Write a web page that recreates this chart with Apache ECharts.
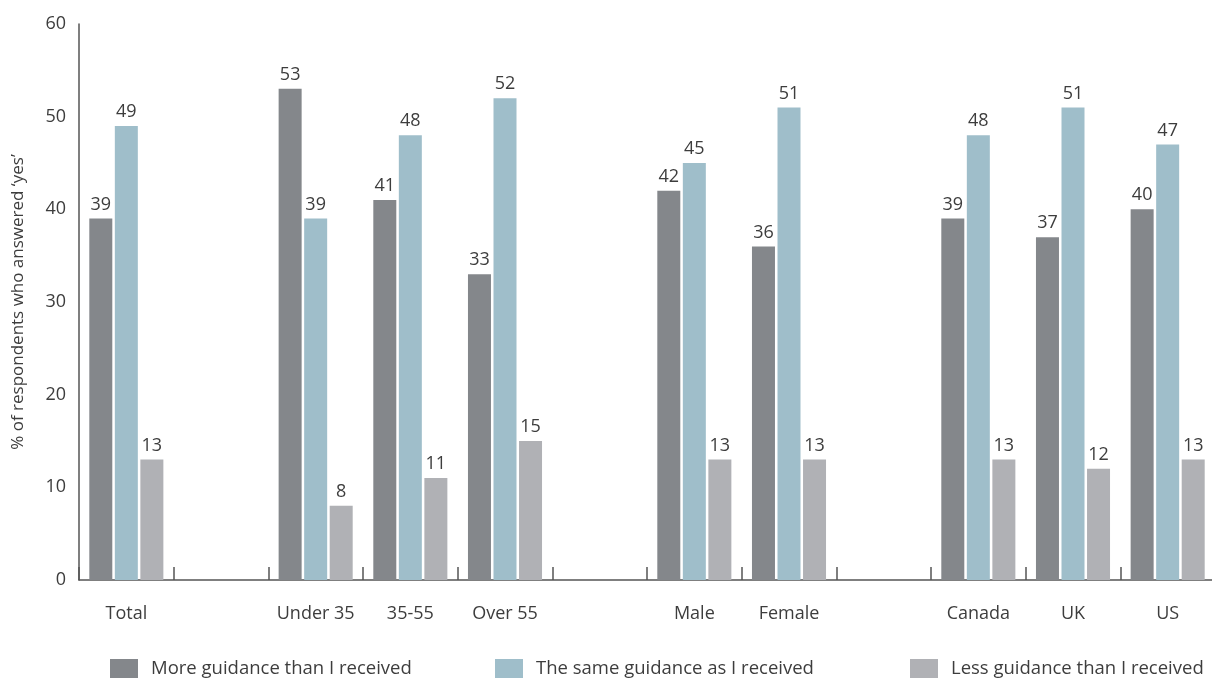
<!DOCTYPE html>
<html>
<head>
<meta charset="utf-8">
<script src="https://cdn.jsdelivr.net/npm/echarts@6/dist/echarts.min.js"></script>
<style>
  html, body { margin: 0; padding: 0; background: #ffffff; }
  #chart { width: 1212px; height: 681px; }
</style>
</head>
<body>
<div id="chart"></div>
<script>
// Category slots; empty strings leave a gap between groups
const categories = ['Total', '', 'Under 35', '35-55', 'Over 55', '', 'Male', 'Female', '', 'Canada', 'UK', 'US'];
const seriesNames = ['More guidance than I received', 'The same guidance as I received', 'Less guidance than I received'];
const moreGuidance = [39, null, 53, 41, 33, null, 42, 36, null, 39, 37, 40];
const sameGuidance = [49, null, 39, 48, 52, null, 45, 51, null, 48, 51, 47];
const lessGuidance = [13, null, 8, 11, 15, null, 13, 13, null, 13, 12, 13];
const yTicks = [0, 10, 20, 30, 40, 50, 60];

const FONT = '"Open Sans", "DejaVu Sans", sans-serif';
const TEXT = '#3d3d3d';
const colors = ['#84878b', '#9fbeca', '#b0b1b5'];
const values = [moreGuidance, sameGuidance, lessGuidance];

const chart = echarts.init(document.getElementById('chart'), null, { renderer: 'canvas' });

const legendPos = [110, 495, 910];

chart.setOption({
  animation: false,
  textStyle: { fontFamily: FONT },
  grid: { left: 79, right: -3, top: 24, bottom: 101, containLabel: false, outerBoundsMode: 'none' },
  legend: seriesNames.map((name, i) => ({
    data: [name],
    left: legendPos[i],
    top: 659,
    itemWidth: 28,
    itemHeight: 19,
    itemGap: 0,
    icon: 'rect',
    padding: 0,
    selectedMode: false,
    textStyle: { fontFamily: FONT, fontSize: 18.5, color: TEXT, padding: [0, 0, 0, 8] }
  })),
  xAxis: {
    type: 'category',
    data: categories,
    boundaryGap: true,
    axisLine: { lineStyle: { color: '#555', width: 1.5 } },
    axisTick: { show: true, inside: true, length: 13, lineStyle: { color: '#555', width: 1.5 } },
    axisLabel: { fontFamily: FONT, fontSize: 18, color: TEXT, margin: 25, interval: 0 },
    splitLine: { show: false }
  },
  yAxis: {
    type: 'value',
    min: yTicks[0],
    max: yTicks[yTicks.length - 1],
    interval: 10,
    name: '% of respondents who answered \u2018yes\u2019',
    nameLocation: 'middle',
    nameGap: 52,
    nameTextStyle: { fontFamily: FONT, fontSize: 17, color: TEXT },
    axisLine: { show: true, lineStyle: { color: '#555', width: 1.5 } },
    axisTick: { show: false },
    axisLabel: { fontFamily: FONT, fontSize: 18, color: TEXT, margin: 13 },
    splitLine: { show: false }
  },
  series: seriesNames.map((name, i) => ({
    name: name,
    type: 'bar',
    data: values[i],
    barWidth: 23,
    barGap: '11%',
    itemStyle: { color: colors[i] },
    label: {
      show: true,
      position: 'top',
      distance: 5,
      fontFamily: FONT,
      fontSize: 18,
      color: TEXT
    }
  }))
});
</script>
</body>
</html>
